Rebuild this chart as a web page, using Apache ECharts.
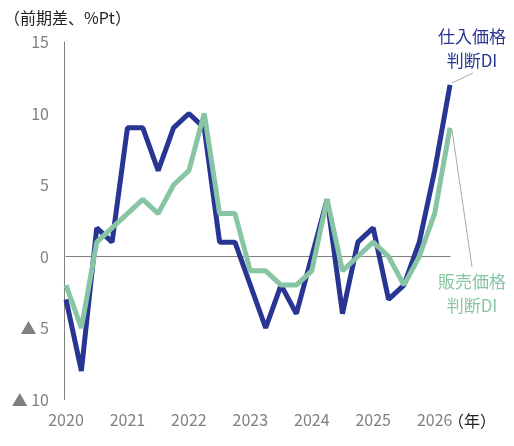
<!DOCTYPE html>
<html>
<head>
<meta charset="utf-8">
<script src="https://cdn.jsdelivr.net/npm/echarts@6/dist/echarts.min.js"></script>
<style>
html,body{margin:0;padding:0;background:#fff;}
#main{width:514px;height:446px;}
</style>
</head>
<body>
<div id="main"></div>
<script>
// quarterly, 2020Q1 .. 2026Q2
var years = ['2020','2021','2022','2023','2024','2025','2026'];
var quarters = [];
for (var y = 0; y < years.length; y++) {
	for (var q = 1; q <= 4; q++) {
		if (years[y] === '2026' && q > 2) break;
		quarters.push(years[y] + 'Q' + q);
	}
}
var shiireDI = [-3,-8,2,1,9,9,6,9,10,9,1,1,-2,-5,-2,-4,0,4,-4,1,2,-3,-2,1,6,12];
var hanbaiDI = [-2,-5,1,2,3,4,3,5,6,10,3,3,-1,-1,-2,-2,-1,4,-1,0,1,0,-2,0,3,9];
var yTicks = {'15':'15','10':'10','5':'5','0':'0','-5':'▲ 5','-10':'▲ 10'};

var font = '"Noto Sans CJK JP", "Noto Sans", sans-serif';
var navy = '#283593';
var green = '#87c5a5';
var gray = '#808080';

var chart = echarts.init(document.getElementById('main'));
var option = {
	animation: false,
	textStyle: {fontFamily: font},
	grid: {left: 66, right: 64, top: 42, bottom: 46.5, containLabel: false},
	xAxis: {
		type: 'category',
		data: quarters,
		boundaryGap: false,
		axisLine: {onZero: true, lineStyle: {color: gray, width: 1}},
		axisTick: {show: false},
		axisLabel: {
			show: false
		},
		splitLine: {show: false}
	},
	yAxis: {
		type: 'value',
		min: -10, max: 15, interval: 5,
		offset: 2,
		axisLine: {show: true, lineStyle: {color: gray, width: 1}},
		axisTick: {show: false},
		splitLine: {show: false},
		axisLabel: {
			color: gray, fontSize: 16, margin: 15,
			formatter: function (v) { return yTicks[String(v)]; }
		}
	},
	series: [
		{
			name: '仕入価格判断DI', type: 'line', data: shiireDI,
			symbol: 'none', lineStyle: {color: navy, width: 5}, z: 2
		},
		{
			name: '販売価格判断DI', type: 'line', data: hanbaiDI,
			symbol: 'none', lineStyle: {color: green, width: 5}, z: 3
		}
	],
	graphic: []
};
chart.setOption(option);

// year labels under the Q1 of each year, from the library's own scale
var graphics = [];
years.forEach(function (yr) {
	var px = chart.convertToPixel({xAxisIndex: 0}, yr + 'Q1');
	graphics.push({
		type: 'text', x: px, y: 420,
		style: {text: yr, fill: gray, font: '16px ' + font, align: 'center', verticalAlign: 'middle'}
	});
});
graphics.push({
	type: 'text', x: 472, y: 421,
	style: {text: '（年）', fill: '#222', font: '16px ' + font, align: 'center', verticalAlign: 'middle'}
});
graphics.push({
	type: 'text', x: 4, y: 18,
	style: {text: '（前期差、%Pt）', fill: '#222', font: '16px ' + font, align: 'left', verticalAlign: 'middle'}
});
var last = quarters.length - 1;
var pN = chart.convertToPixel({seriesIndex: 0}, [last, shiireDI[last]]);
var pH = chart.convertToPixel({seriesIndex: 1}, [last, hanbaiDI[last]]);
graphics.push({
	type: 'line', shape: {x1: pN[0] + 2, y1: pN[1] - 2, x2: 473, y2: 73},
	style: {stroke: '#aaa', lineWidth: 1}
});
graphics.push({
	type: 'line', shape: {x1: pH[0] + 2, y1: pH[1] + 2, x2: 472, y2: 267},
	style: {stroke: '#aaa', lineWidth: 1}
});
graphics.push({
	type: 'text', x: 472, y: 49,
	style: {text: '仕入価格\n判断DI', fill: navy, font: '17px ' + font, align: 'center', verticalAlign: 'middle', lineHeight: 24}
});
graphics.push({
	type: 'text', x: 472, y: 294,
	style: {text: '販売価格\n判断DI', fill: green, font: '17px ' + font, align: 'center', verticalAlign: 'middle', lineHeight: 24}
});
chart.setOption({graphic: graphics});
</script>
</body>
</html>
